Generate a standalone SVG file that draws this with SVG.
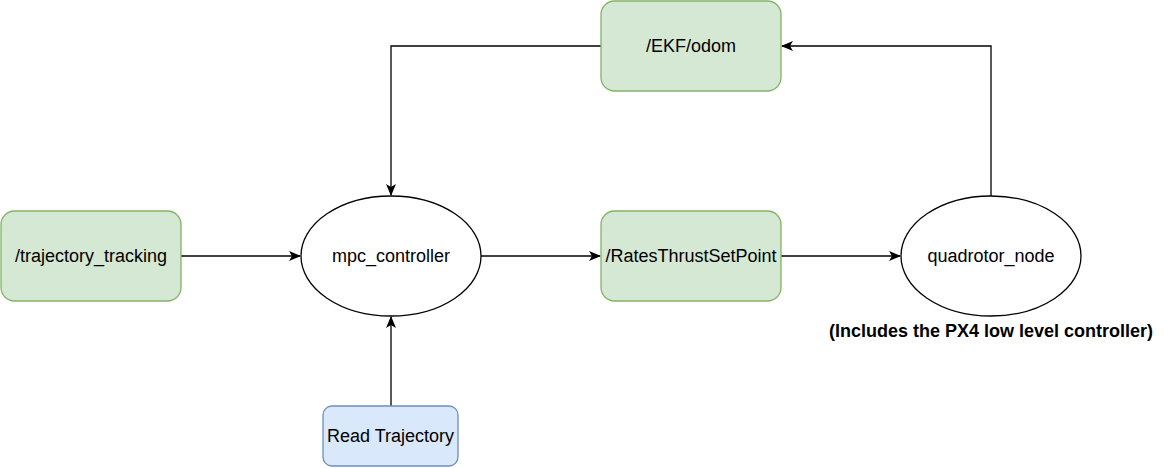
<svg xmlns="http://www.w3.org/2000/svg" width="1164" height="468" viewBox="0 0 1164 468">
<defs>
<style>
.g{fill:#d5e8d4;stroke:#82b366;stroke-width:1.3}
.b{fill:#dae8fc;stroke:#6c8ebf;stroke-width:1.3}
.e{fill:#ffffff;stroke:#000000;stroke-width:1.3}
.t{font-family:"Liberation Sans",Arial,sans-serif;font-size:18px;fill:#000000;text-anchor:middle;dominant-baseline:central}
.lb{font-weight:bold}
.c{fill:none;stroke:#000000;stroke-width:1.3}
</style>
<marker id="a" viewBox="0 0 12 10" refX="11" refY="5" markerWidth="12" markerHeight="10" markerUnits="userSpaceOnUse" orient="auto">
<path d="M0,0 L12,5 L0,10 L3,5 Z" fill="#000000"/>
</marker>
</defs>
<rect width="1164" height="468" fill="#ffffff"/>
<g id="connectors">
<path class="c" d="M601,46 H391 V195" marker-end="url(#a)"/>
<path class="c" d="M991,196 V46 H782" marker-end="url(#a)"/>
<path class="c" d="M181,256 H300" marker-end="url(#a)"/>
<path class="c" d="M481,256 H600" marker-end="url(#a)"/>
<path class="c" d="M781,256 H900" marker-end="url(#a)"/>
<path class="c" d="M391,406 V317" marker-end="url(#a)"/>
</g>
<g id="ekf_odom">
<rect class="g" x="601" y="1" width="180" height="90" rx="13.5"/>
<text class="t" x="691" y="46">/EKF/odom</text>
</g>
<g id="trajectory_tracking">
<rect class="g" x="1" y="211" width="180" height="90" rx="13.5"/>
<text class="t" x="91" y="256">/trajectory_tracking</text>
</g>
<g id="mpc_controller">
<ellipse class="e" cx="391" cy="256" rx="90" ry="60"/>
<text class="t" x="391" y="256">mpc_controller</text>
</g>
<g id="rates_thrust">
<rect class="g" x="601" y="211" width="180" height="90" rx="13.5"/>
<text class="t" x="691" y="256">/RatesThrustSetPoint</text>
</g>
<g id="quadrotor_node">
<ellipse class="e" cx="991" cy="256" rx="90" ry="60"/>
<text class="t" x="991" y="256">quadrotor_node</text>
<text class="t lb" x="991" y="331">(Includes the PX4 low level controller)</text>
</g>
<g id="read_trajectory">
<rect class="b" x="323" y="406" width="135" height="60" rx="9"/>
<text class="t" x="390.5" y="436">Read Trajectory</text>
</g>
</svg>
